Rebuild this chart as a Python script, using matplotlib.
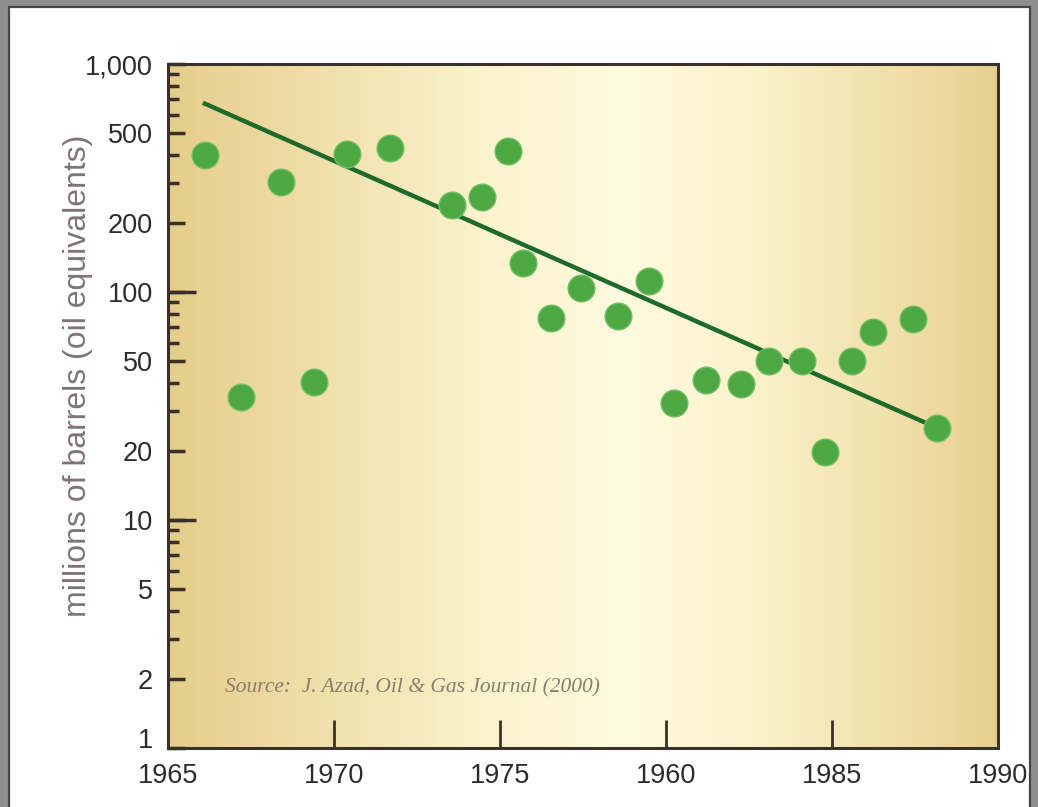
import numpy as np
import matplotlib
matplotlib.use('Agg')
import matplotlib.pyplot as plt
from matplotlib.patches import Rectangle
from matplotlib.ticker import FixedLocator, FixedFormatter, NullFormatter, NullLocator

# discoveries per year
years = [1966.1, 1967.2, 1968.4, 1969.4, 1970.4, 1971.7, 1973.55, 1974.45,
         1975.25, 1975.7, 1976.55, 1977.45, 1978.55, 1979.5, 1980.25, 1981.2,
         1982.25, 1983.1, 1984.1, 1984.8, 1985.6, 1986.25, 1987.45, 1988.15]
barrels = [399, 34.6, 305, 40.5, 405, 430, 240, 262,
           415, 134, 77, 104, 78.5, 112, 32.6, 41.1,
           39.5, 49.8, 50, 19.9, 49.8, 67, 76, 25.3]

# fitted trend line end points
trend_years = [1966.05, 1988.1]
trend_barrels = [676, 25.6]

xtick_pos = [1965, 1970, 1975, 1980, 1985, 1990]
xtick_labels = ['1965', '1970', '1975', '1960', '1985', '1990']  # "1960" as printed in the original
ytick_pos = [1, 2, 5, 10, 20, 50, 100, 200, 500, 1000]
ytick_labels = ['1', '2', '5', '10', '20', '50', '100', '200', '500', '1,000']
ytick_small = [3, 4, 6, 7, 8, 9, 30, 40, 60, 70, 80, 90, 300, 400, 600, 700, 800, 900]
ytick_long = [10, 100]

plt.rcParams['font.family'] = ['Liberation Sans', 'DejaVu Sans']

fig = plt.figure(figsize=(10.38, 8.07), dpi=100)
fig.patch.set_facecolor('#8f8f8f')
frame = Rectangle((9 / 1038, -0.01), 1021 / 1038, 1.01 - 7 / 807, transform=fig.transFigure,
                  facecolor='white', edgecolor='#474747', lw=1.6, zorder=-10)
fig.add_artist(frame)

ax = fig.add_axes([168 / 1038, 1 - 748 / 807, 830 / 1038, 684 / 807])
ax.set_facecolor('none')

# golden -> pale -> golden background
xs = np.linspace(0, 1, 500)
stops = [0, 0.06, 0.38, 0.55, 0.70, 0.94, 1]
cols = ['#e5cd88', '#e9d396', '#fbf3cc', '#fffbe0', '#fbf3cc', '#ecd89d', '#e6cf8e']
rgb = np.array([matplotlib.colors.to_rgb(c) for c in cols])
grad = np.stack([np.interp(xs, stops, rgb[:, k]) for k in range(3)], axis=-1)
ax.imshow(grad[np.newaxis, :, :], extent=[0, 1, 0, 1], transform=ax.transAxes,
          aspect='auto', zorder=0, interpolation='bilinear')

ax.plot(trend_years, trend_barrels, color='#1d6a2b', lw=3.2, solid_capstyle='butt', zorder=2)
ax.scatter(years, barrels, s=370, color='#4ba843', edgecolors='#72bf62', linewidths=1.0, zorder=3)

ax.set_yscale('log')
ax.set_xlim(1965, 1990)
ax.set_ylim(1, 1000)

ax.xaxis.set_major_locator(FixedLocator(xtick_pos))
ax.xaxis.set_major_formatter(FixedFormatter(xtick_labels))
ax.yaxis.set_major_locator(FixedLocator(ytick_pos))
ax.yaxis.set_major_formatter(FixedFormatter(ytick_labels))
ax.yaxis.set_minor_locator(FixedLocator(ytick_small))
ax.yaxis.set_minor_formatter(NullFormatter())

ax.tick_params(axis='x', which='major', direction='in', length=20, width=2.0,
               color='#3a3228', labelsize=19.5, labelcolor='#2b2b2b', pad=10.5)
ax.tick_params(axis='y', which='major', direction='in', length=12, width=2.5,
               color='#3a3228', labelsize=19.5, labelcolor='#2b2b2b', pad=11)
ax.tick_params(axis='y', which='minor', direction='in', length=8, width=2.5, color='#3a3228')

# the "1" sits on the bottom spine, just above the year labels
ax.yaxis.get_major_ticks()[0].label1.set_va('baseline')

# longer ticks at 10 and 100
sec = ax.secondary_yaxis('left')
sec.set_yticks(ytick_long)
sec.yaxis.set_minor_locator(NullLocator())
sec.tick_params(axis='y', direction='in', length=20, width=2.5, color='#3a3228', labelleft=False)
sec.spines['left'].set_visible(False)

for sp in ax.spines.values():
    sp.set_color('#3a3228')
    sp.set_linewidth(2.2)
    sp.set_zorder(4)

ax.set_ylabel('millions of barrels (oil equivalents)', fontsize=23, color='#807474')
ax.yaxis.set_label_coords(-0.09, 0.544)

ax.text(0.069, 0.088, 'Source:  J. Azad, Oil & Gas Journal (2000)', transform=ax.transAxes,
        fontsize=15.5, fontstyle='italic', family=['Liberation Serif', 'DejaVu Serif'],
        color='#8b7f6c', va='center', ha='left', zorder=3)

fig.savefig('out.png', dpi=100, facecolor=fig.get_facecolor())
